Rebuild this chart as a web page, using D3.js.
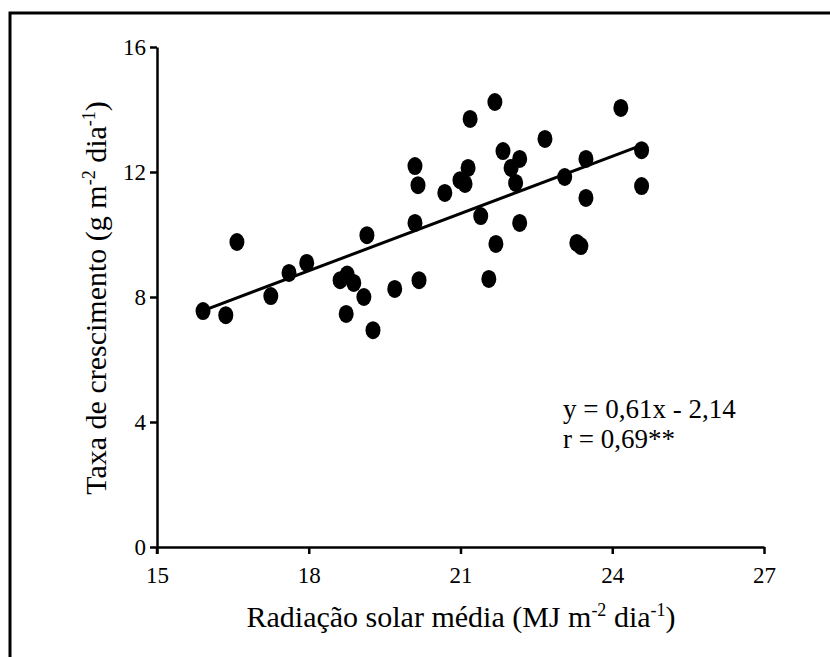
<!DOCTYPE html>
<html>
<head>
<meta charset="utf-8">
<script src="https://cdn.jsdelivr.net/npm/d3@7"></script>
<style>
  html, body { margin: 0; padding: 0; background: #fff; }
  svg { display: block; }
  text { font-family: "Liberation Serif", "Times New Roman", serif; fill: #000; }
</style>
</head>
<body>
<svg id="chart" width="830" height="657"></svg>
<script>
// Data
const radiation = [15.91, 16.36, 16.58, 17.25, 17.61, 17.96, 18.62, 18.76, 18.89, 18.74,
  19.09, 19.27, 19.15, 19.70, 20.10, 20.10, 20.16, 20.18, 20.69, 20.99,
  21.09, 21.15, 21.19, 21.40, 21.56, 21.68, 21.70, 21.84, 22.00, 22.09,
  22.17, 22.17, 22.67, 23.06, 23.30, 23.38, 23.48, 23.48, 24.17, 24.58, 24.58];
const growth = [7.55, 7.42, 9.76, 8.03, 8.77, 9.09, 8.54, 8.72, 8.45, 7.46,
  8.00, 6.94, 9.98, 8.26, 10.37, 12.19, 11.58, 8.54, 11.33, 11.74,
  11.62, 12.13, 13.70, 10.59, 8.58, 14.24, 9.70, 12.67, 12.13, 11.65,
  12.42, 10.37, 13.06, 11.84, 9.73, 9.63, 12.42, 11.17, 14.05, 12.70, 11.55];
const xTicks = [15, 18, 21, 24, 27];
const yTicks = [0, 4, 8, 12, 16];
const slope = 0.61, intercept = -2.14;
const fitRange = [15.9, 24.6];
const eqLines = ["y = 0,61x - 2,14", "r = 0,69**"];

const svg = d3.select("#chart");
const serif = "'Liberation Serif', 'Times New Roman', serif";

// frame
svg.append("rect").attr("x", 10).attr("y", 13).attr("width", 840).attr("height", 700)
  .attr("fill", "none").attr("stroke", "#000").attr("stroke-width", 3);

const x = d3.scaleLinear().domain([15, 27]).range([157, 764]);
const y = d3.scaleLinear().domain([0, 16]).range([547, 47]);

const g = svg.append("g");

const xAxis = g.append("g").attr("transform", `translate(0,${y(0)})`)
  .call(d3.axisBottom(x).tickValues(xTicks).tickSize(7).tickSizeOuter(0).tickPadding(13).tickFormat(d3.format("d")));
const yAxis = g.append("g").attr("transform", `translate(${x(15)},0)`)
  .call(d3.axisLeft(y).tickValues(yTicks).tickSize(7).tickSizeOuter(0).tickPadding(4).tickFormat(d3.format("d")));

[xAxis, yAxis].forEach(a => {
  a.attr("font-family", serif).attr("font-size", 23);
  a.select(".domain").attr("stroke", "#000").attr("stroke-width", 2.5);
  a.selectAll(".tick line").attr("stroke", "#000").attr("stroke-width", 2.5);
  a.selectAll(".tick text").style("font-family", serif).style("font-size", "23px").attr("fill", "#000");
});
// y axis line slightly extends below origin
yAxis.append("line").attr("x1", 0).attr("x2", 0).attr("y1", y(0)).attr("y2", y(0) + 7)
  .attr("stroke", "#000").attr("stroke-width", 2.5);

// regression line
g.append("line")
  .attr("x1", x(fitRange[0])).attr("y1", y(slope * fitRange[0] + intercept))
  .attr("x2", x(fitRange[1])).attr("y2", y(slope * fitRange[1] + intercept))
  .attr("stroke", "#000").attr("stroke-width", 3);

// points
g.selectAll("ellipse.pt").data(radiation.map((r, i) => [r, growth[i]])).enter()
  .append("ellipse").attr("class", "pt")
  .attr("cx", d => x(d[0])).attr("cy", d => y(d[1]))
  .attr("rx", 7.5).attr("ry", 9).attr("fill", "#000");

// equation
const eq = g.append("text").attr("x", 563).attr("y", 418).style("font-size", "27px");
eqLines.forEach((t, i) => eq.append("tspan").attr("x", 563).attr("dy", i === 0 ? 0 : 30).text(t));

// x title
const xt = svg.append("text").attr("x", 461).attr("y", 627).attr("text-anchor", "middle").style("font-size", "30px");
xt.append("tspan").text("Radiação solar média (MJ m");
xt.append("tspan").attr("dy", -11).style("font-size", "18px").text("-2");
xt.append("tspan").attr("dy", 11).text(" dia");
xt.append("tspan").attr("dy", -11).style("font-size", "18px").text("-1");
xt.append("tspan").attr("dy", 11).text(")");

// y title
const yt = svg.append("text").attr("transform", "translate(106,298) rotate(-90)").attr("text-anchor", "middle").style("font-size", "30px");
yt.append("tspan").text("Taxa de crescimento (g m");
yt.append("tspan").attr("dy", -11).style("font-size", "18px").text("-2");
yt.append("tspan").attr("dy", 11).text(" dia");
yt.append("tspan").attr("dy", -11).style("font-size", "18px").text("-1");
yt.append("tspan").attr("dy", 11).text(")");
</script>
</body>
</html>
